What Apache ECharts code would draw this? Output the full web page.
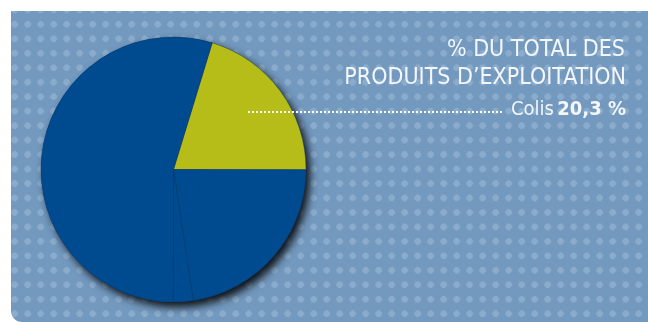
<!DOCTYPE html>
<html>
<head>
<meta charset="utf-8">
<script src="https://cdn.jsdelivr.net/npm/echarts@6/dist/echarts.min.js"></script>
<style>
  html, body { margin: 0; padding: 0; background: #ffffff; }
  #panel {
    position: absolute; left: 11px; top: 11px; width: 637px; height: 311px;
    border-bottom-left-radius: 11px;
    background-color: #7399bf;
    background-image: radial-gradient(circle, rgba(146,178,209,0.75) 3px, rgba(146,178,209,0) 3.6px);
    background-size: 13px 14.47px;
    background-position: 10.2px 6.1px;
  }
  #chart { position: absolute; left: 0; top: 0; width: 648px; height: 322px; }
</style>
</head>
<body>
<div id="panel"></div>
<div id="chart"></div>
<script>
// ---- data ----
const titleLines = ['% DU TOTAL DES', 'PRODUITS D\u2019EXPLOITATION'];
const categories = ['Colis', 'Autre A', 'Autre B', 'Autre C'];
const values = [20.3, 22.6, 2.4, 54.7];
const sliceColors = ['#b6bd19', '#004a8f', '#004a8f', '#004a8f'];
const labelledIndex = 0;

const FONT = '"DejaVu Sans Condensed", "Liberation Sans Narrow", "Liberation Sans", sans-serif';
const fmt = v => v.toFixed(1).replace('.', ',') + ' %';
const total = values.reduce((a, b) => a + b, 0);
const TXT = '#f3f6fa';

const chart = echarts.init(document.getElementById('chart'), null, { renderer: 'canvas' });
chart.setOption({
  backgroundColor: 'transparent',
  animation: false,
  graphic: [
    { type: 'text', x: 625, y: 50, z: 100,
      style: { text: titleLines[0], align: 'right', verticalAlign: 'middle', fill: TXT, font: '23px ' + FONT } },
    { type: 'text', x: 626, y: 78, z: 100,
      style: { text: titleLines[1], align: 'right', verticalAlign: 'middle', fill: TXT, font: '23px ' + FONT } },
    { type: 'line', z: 100, silent: true,
      shape: { x1: 248, y1: 112, x2: 503, y2: 112 },
      style: { stroke: '#ffffff', lineWidth: 2, lineDash: [2, 2] } }
  ],
  series: [
    {
      type: 'pie', silent: true, z: 1,
      center: [173.5, 169.5], radius: 132.5,
      label: { show: false }, labelLine: { show: false },
      itemStyle: { color: '#004a8f', shadowBlur: 8, shadowOffsetX: 4, shadowOffsetY: 5, shadowColor: 'rgba(0,0,0,0.9)' },
      data: [{ name: 'total', value: total }]
    },
    {
      type: 'pie', z: 2,
      center: [173.5, 169.5], radius: 132.5,
      startAngle: 73, clockwise: true,
      itemStyle: { borderColor: 'rgba(20,50,90,0.6)', borderWidth: 0.6 },
      labelLine: { show: false },
      data: categories.map((c, i) => ({
        name: c, value: values[i],
        itemStyle: { color: sliceColors[i] },
        label: i === labelledIndex ? {
          show: true, position: 'outside',
          formatter: p => '{a|' + p.name + '} {b|' + fmt(p.value) + '}',
          rich: {
            a: { color: TXT, fontFamily: FONT, fontSize: 20 },
            b: { color: TXT, fontFamily: FONT, fontSize: 20, fontWeight: 'bold' }
          }
        } : { show: false }
      })),
      labelLayout: function (params) {
        if (params.dataIndex !== labelledIndex) return {};
        return { x: 626, y: 110, align: 'right', verticalAlign: 'middle' };
      }
    }
  ]
});
</script>
</body>
</html>
